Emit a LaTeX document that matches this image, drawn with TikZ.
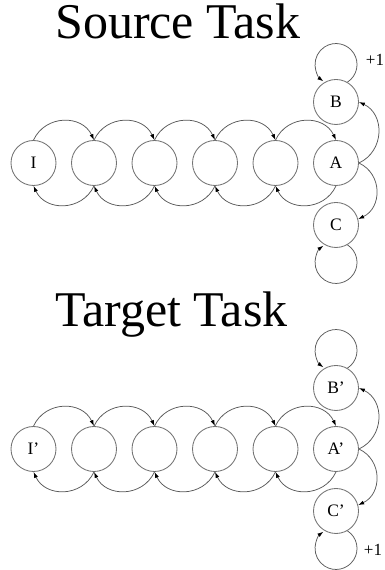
\documentclass[tikz,border=0pt]{standalone}
\usepackage{fontspec}
\setmainfont{Liberation Serif}
\usetikzlibrary{arrows.meta}
\begin{document}
\begin{tikzpicture}[x=1pt,y=1pt,
  st/.style={circle,draw=black!55,line width=0.85pt,minimum size=45pt,inner sep=0pt,font=\fontsize{17.5}{17.5}\selectfont},
  tr/.style={draw=black!65,line width=0.75pt,-{Latex[length=6pt,width=4pt,black]}},
  ttl/.style={anchor=base west,font=\fontsize{50}{50}\selectfont,inner sep=0pt},
  rew/.style={font=\fontsize{17}{17}\selectfont,inner sep=0pt}]
\useasboundingbox (0,0) rectangle (384,570);
\node[ttl] (ts) at (55,531) {Source Task};
\node[ttl] (tt) at (55,243) {Target Task};
\foreach \p/\Y/\pr in {s/407/{}, t/121/’} {
  \node[st] (\p0) at (33.5,\Y) {I\pr};
  \foreach \i in {1,...,4} \node[st] (\p\i) at ({33.5+60.5*\i},\Y) {};
  \node[st] (\p5) at (336,\Y) {A\pr};
  \node[st] (\p b) at (336,\Y+61) {B\pr};
  \node[st] (\p c) at (336,\Y-62) {C\pr};
  \foreach \i [evaluate=\i as \j using int(\i+1)] in {0,...,4} {
    \draw[tr] (\p\i.north) to[out=65,in=115,looseness=1.2] (\p\j.north);
    \draw[tr] (\p\j.south) to[out=-115,in=-65,looseness=1.2] (\p\i.south);
  }
  \draw[tr] (\p5.east) to[out=25,in=-25,looseness=1.2] (\p b.east);
  \draw[tr] (\p5.east) to[out=-25,in=25,looseness=1.2] (\p c.15);
  \draw[tr] (\p b.60) arc[start angle=-57,end angle=233,radius=21];
  \draw[tr] (\p c.-60) arc[start angle=57,end angle=-233,radius=21];
}
\node[rew] (r1) at (375,510) {+1};
\node[rew] (r2) at (373,20) {+1};
\end{tikzpicture}
\end{document}
